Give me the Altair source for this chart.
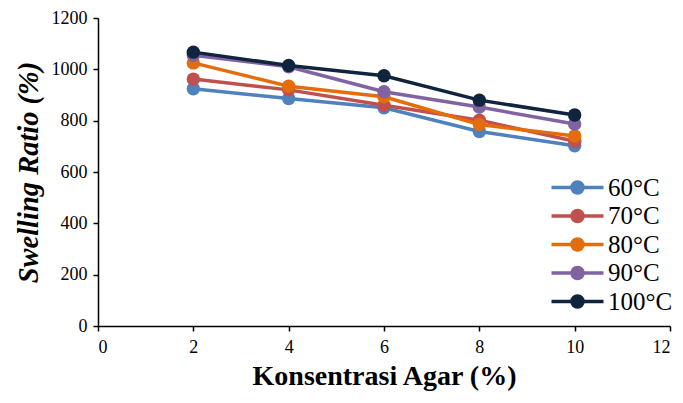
import altair as alt
import pandas as pd

conc = [2, 4, 6, 8, 10]
series_names = ["60°C", "70°C", "80°C", "90°C", "100°C"]
s60 = [924, 886, 850, 758, 702]
s70 = [962, 920, 860, 802, 720]
s80 = [1025, 934, 893, 785, 740]
s90 = [1055, 1010, 913, 853, 787]
s100 = [1067, 1015, 975, 880, 822]
colors = ["#4F81BD", "#C0504D", "#E46C0A", "#8064A2", "#10243E"]

all_vals = [s60, s70, s80, s90, s100]
rows = []
for name, vals in zip(series_names, all_vals):
    for c, v in zip(conc, vals):
        rows.append({"Konsentrasi": c, "Swelling": v, "Suhu": name})
df = pd.DataFrame(rows)

font = "Liberation Serif"
legend_path = "M-2.6,0H2.6M0.55,0A0.55,0.55 0 1 1 -0.55,0A0.55,0.55 0 1 1 0.55,0Z"

color = alt.Color(
    "Suhu:N",
    scale=alt.Scale(domain=series_names, range=colors),
    sort=series_names,
    legend=alt.Legend(
        title=None,
        orient="none",
        legendX=467,
        legendY=157,
        symbolType=legend_path,
        symbolSize=400,
        symbolStrokeWidth=3.5,
        labelFontSize=25,
        labelColor="black",
        labelOffset=18,
        labelLimit=200,
        rowPadding=2.5,
        padding=0,
    ),
)

x = alt.X(
    "Konsentrasi:Q",
    scale=alt.Scale(domain=[0, 12], nice=False),
    axis=alt.Axis(
        values=[0, 2, 4, 6, 8, 10, 12],
        format="d",
        title="Konsentrasi Agar (%)",
        titleFontSize=28,
        titleFontWeight="bold",
        titleColor="black",
        titlePadding=6,
        labelFontSize=18,
        labelColor="black",
        labelPadding=7,
        grid=False,
        domainColor="black",
        domainWidth=1.5,
        tickColor="black",
        tickWidth=1.5,
        tickSize=5,
    ),
)
y = alt.Y(
    "Swelling:Q",
    scale=alt.Scale(domain=[0, 1200], nice=False),
    axis=alt.Axis(
        values=[0, 200, 400, 600, 800, 1000, 1200],
        format="d",
        title="Swelling Ratio (%)",
        titleFontSize=28.5,
        titleFontWeight="bold",
        titleFontStyle="italic",
        titleColor="black",
        titlePadding=8,
        labelFontSize=18,
        labelColor="black",
        labelPadding=6,
        grid=False,
        domainColor="black",
        domainWidth=1.5,
        tickColor="black",
        tickWidth=1.5,
        tickSize=5,
    ),
)

layers = []
for name in series_names:
    base = alt.Chart(df).transform_filter(alt.datum.Suhu == name)
    layers.append(base.mark_line(strokeWidth=3.5).encode(x=x, y=y, color=color))
    layers.append(base.mark_point(filled=True, size=180, opacity=1).encode(x=x, y=y, color=color))

chart = alt.layer(*layers).properties(
    width=572,
    height=308,
    autosize=alt.AutoSizeParams(type="none"),
    padding={"left": 90, "top": 10, "right": 5, "bottom": 69},
).configure(font=font).configure_axis(
    labelFont=font, titleFont=font
).configure_legend(labelFont=font).configure_view(stroke=None)

chart.save("out.html", embed_options={"renderer": "svg", "actions": False})
